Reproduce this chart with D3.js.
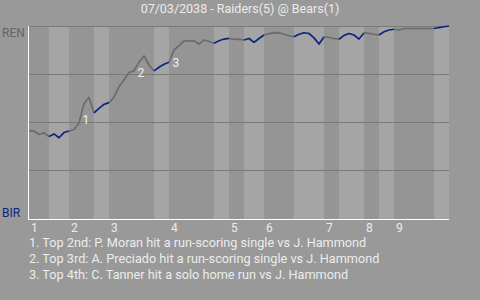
<!DOCTYPE html>
<html>
<head>
<meta charset="utf-8">
<script src="https://cdn.jsdelivr.net/npm/d3@7"></script>
<style>
  html, body { margin: 0; padding: 0; background: #999999; }
  svg { display: block; font-family: Roboto, sans-serif; }
</style>
</head>
<body>
<svg id="chart" width="480" height="300"></svg>
<script>
const title = '07/03/2038 - Raiders(5) @ Bears(1)';
const awayAbbr = 'REN';
const homeAbbr = 'BIR';
const innings = ['1', '2', '3', '4', '5', '6', '7', '8', '9'];
// plate appearances in each half inning, top 1st .. bottom 9th
const halfPAs = [4, 4, 5, 3, 9, 3, 9, 3, 3, 4, 6, 6, 3, 5, 3, 3, 8, 3];
// away win probability after each plate appearance (first value = before first pitch)
const winProb = [
    0.455, 0.453, 0.435, 0.444, 0.424,
    0.438, 0.418, 0.445, 0.453,
    0.461, 0.495, 0.596, 0.628, 0.547,
    0.571, 0.592, 0.601,
    0.628, 0.685, 0.719, 0.758, 0.766, 0.812, 0.844, 0.797, 0.766,
    0.785, 0.801, 0.811,
    0.875, 0.898, 0.922, 0.923, 0.923, 0.906, 0.927, 0.919, 0.910,
    0.923, 0.932, 0.936,
    0.932, 0.930, 0.927,
    0.935, 0.915, 0.935, 0.953,
    0.960, 0.964, 0.965, 0.957, 0.949, 0.944,
    0.957, 0.965, 0.961, 0.938, 0.906, 0.943,
    0.940, 0.935, 0.931,
    0.951, 0.961, 0.953, 0.932, 0.964,
    0.962, 0.957, 0.953,
    0.970, 0.979, 0.983,
    0.979, 0.987, 0.987, 0.987, 0.987, 0.987, 0.987, 0.987,
    0.992, 0.996, 1.0
];
const eventIdx = [11, 22, 29];
const eventNotes = [
    '1. Top 2nd: P. Moran hit a run-scoring single vs J. Hammond',
    '2. Top 3rd: A. Preciado hit a run-scoring single vs J. Hammond',
    '3. Top 4th: C. Tanner hit a solo home run vs J. Hammond'
];

const plotLeft = 29, plotRight = 449, plotTop = 26, plotBottom = 220;
const svg = d3.select('#chart');

const x = d3.scaleLinear().domain([0, winProb.length - 1]).range([plotLeft, plotRight]);
const y = d3.scaleLinear().domain([0, 1]).range([218, plotTop]);

// half-inning start/end indexes
let acc = 0;
const halves = halfPAs.map(function (n, i) {
    const h = { start: acc, end: acc + n, isTop: i % 2 === 0, inning: Math.floor(i / 2) };
    acc += n;
    return h;
});

svg.append('text')
    .attr('x', 240).attr('y', 13)
    .attr('text-anchor', 'middle')
    .attr('font-size', 12.5)
    .attr('fill', '#ececec')
    .text(title);

svg.selectAll('.band')
    .data(halves)
    .enter()
    .append('rect')
    .attr('class', 'band')
    .attr('x', d => x(d.start))
    .attr('width', d => x(d.end) - x(d.start))
    .attr('y', plotTop)
    .attr('height', plotBottom - plotTop)
    .attr('fill', d => d.isTop ? '#959595' : '#a5a5a5');

svg.selectAll('.grid')
    .data([0.25, 0.5, 0.75, 1])
    .enter()
    .append('line')
    .attr('x1', plotLeft).attr('x2', plotRight)
    .attr('y1', d => Math.round(y(d)) + 0.5)
    .attr('y2', d => Math.round(y(d)) + 0.5)
    .attr('stroke', '#7a7a7a');

// axes
svg.append('line')
    .attr('x1', plotLeft - 0.5).attr('x2', plotLeft - 0.5)
    .attr('y1', plotTop).attr('y2', plotBottom)
    .attr('stroke', '#ffffff');
svg.append('line')
    .attr('x1', plotLeft - 1).attr('x2', plotRight)
    .attr('y1', plotBottom - 0.5).attr('y2', plotBottom - 0.5)
    .attr('stroke', '#ffffff');

const line = d3.line()
    .x(d => x(d[0]))
    .y(d => y(d[1]));

svg.selectAll('.wp')
    .data(halves)
    .enter()
    .append('path')
    .attr('class', 'wp')
    .attr('fill', 'none')
    .attr('stroke', d => d.isTop ? '#6b6b6b' : '#0a2580')
    .attr('stroke-width', 1.7)
    .attr('stroke-linejoin', 'round')
    .attr('d', function (d) {
        return line(d3.range(d.start, d.end + 1).map(i => [i, winProb[i]]));
    });

// event markers sit at the middle of the scoring segment
svg.selectAll('.ev')
    .data(eventIdx)
    .enter()
    .append('text')
    .attr('x', d => (x(d - 1) + x(d)) / 2 + 1)
    .attr('y', d => (y(winProb[d - 1]) + y(winProb[d])) / 2 + 10.5)
    .attr('font-size', 12)
    .attr('fill', '#f0f0f0')
    .text((d, i) => i + 1);

svg.append('text')
    .attr('x', 2).attr('y', 37)
    .attr('font-size', 12)
    .attr('fill', '#666666')
    .text(awayAbbr);
svg.append('text')
    .attr('x', 2).attr('y', 217)
    .attr('font-size', 12)
    .attr('fill', '#0a2580')
    .text(homeAbbr);

svg.selectAll('.tick')
    .data(halves.filter(d => d.isTop))
    .enter()
    .append('text')
    .attr('x', d => x(d.start) + 2)
    .attr('y', 232)
    .attr('font-size', 12)
    .attr('fill', '#ececec')
    .text(d => innings[d.inning]);

svg.selectAll('.note')
    .data(eventNotes)
    .enter()
    .append('text')
    .attr('x', 29)
    .attr('y', (d, i) => 247 + i * 16)
    .attr('font-size', 12.7)
    .attr('fill', '#ececec')
    .text(d => d);
</script>
</body>
</html>
